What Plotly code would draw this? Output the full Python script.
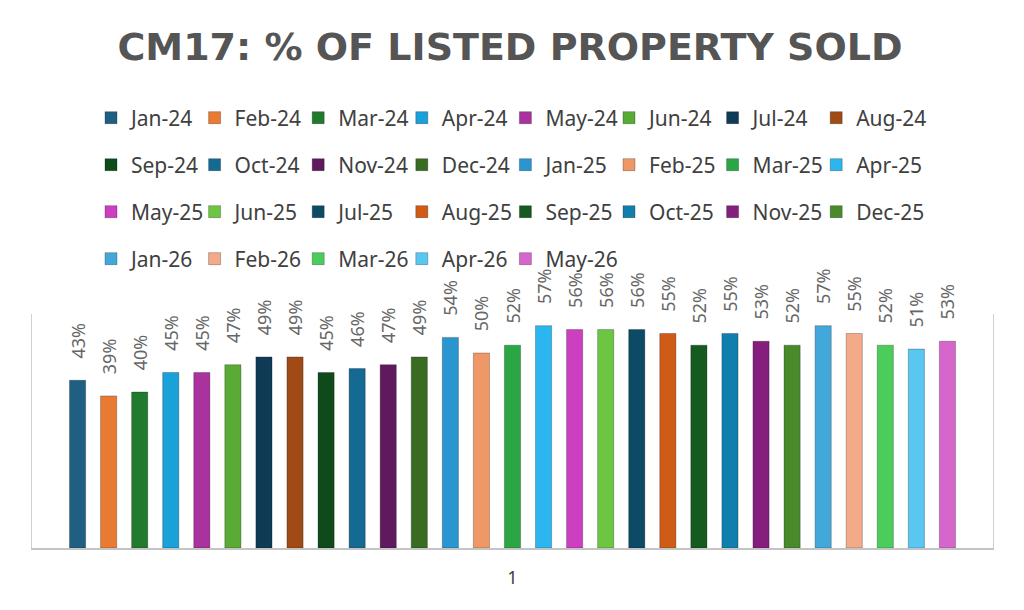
import plotly.graph_objects as go

categories = ["1"]
months = ["Jan-24", "Feb-24", "Mar-24", "Apr-24", "May-24", "Jun-24", "Jul-24", "Aug-24",
          "Sep-24", "Oct-24", "Nov-24", "Dec-24", "Jan-25", "Feb-25", "Mar-25", "Apr-25",
          "May-25", "Jun-25", "Jul-25", "Aug-25", "Sep-25", "Oct-25", "Nov-25", "Dec-25",
          "Jan-26", "Feb-26", "Mar-26", "Apr-26", "May-26"]
values = [0.43, 0.39, 0.40, 0.45, 0.45, 0.47, 0.49, 0.49,
          0.45, 0.46, 0.47, 0.49, 0.54, 0.50, 0.52, 0.57,
          0.56, 0.56, 0.56, 0.55, 0.52, 0.55, 0.53, 0.52,
          0.57, 0.55, 0.52, 0.51, 0.53]
colors = ["#1f5f82", "#e97a33", "#217a2e", "#1aa1d9", "#a9329e", "#5aaa36", "#0f3b56", "#a04a16",
          "#0f4a1a", "#156a94", "#5e1a5c", "#386c22", "#2996d0", "#ef9866", "#2aa744", "#2bb6ef",
          "#cc3fc1", "#6cc644", "#0c4a66", "#cf5b16", "#155a1f", "#117fad", "#841f7e", "#4a8a2b",
          "#42a8da", "#f2aa88", "#4ccc5a", "#5ac6f2", "#d566cc"]

LABEL_SIZE = 18
LEGEND_SIZE = 21
per_row = 8


def legend_name(i):
    return "legend" if i == 0 else f"legend{i + 1}"


fig = go.Figure()
for i, (m, v, c) in enumerate(zip(months, values, colors)):
    fig.add_trace(go.Bar(
        x=categories, y=[v], name=m,
        marker=dict(color=c, line=dict(color="rgba(0,0,0,0.25)", width=1)),
        texttemplate="\u00a0\u00a0\u00a0\u00a0%{y:.0%}",
        textposition="outside", textangle=-90,
        textfont=dict(family="Noto Sans", size=LABEL_SIZE, color="#666666"),
        cliponaxis=False,
        legend=legend_name(i),
    ))

OFF = 8  # page body margin offset
W, H = 1024, 610
ml, mr, mt, mb = 32 - OFF, 1024 - (993 - OFF), 314 - OFF, 610 - (548 - OFF)
plot_h = H - mt - mb
plot_w = W - ml - mr
row_px = [118, 165, 212, 259]
x0_px, step_px = 91, 103.6
legend_cfg = {}
for i in range(len(months)):
    r, k = divmod(i, per_row)
    legend_cfg[legend_name(i)] = dict(
        orientation="h", x=(x0_px + k * step_px - OFF - ml) / plot_w, xanchor="left",
        y=(H - mb - (row_px[r] - OFF)) / plot_h, yanchor="middle",
        font=dict(family="Noto Sans", size=LEGEND_SIZE, color="#404040"),
        bgcolor="rgba(0,0,0,0)",
    )

fig.update_layout(
    width=W, height=H,
    margin=dict(l=ml, r=mr, t=mt, b=mb),
    paper_bgcolor="white", plot_bgcolor="white",
    barmode="group", bargap=0.0625, bargroupgap=0.48,
    uniformtext=dict(minsize=LABEL_SIZE, mode="show"),
    title=dict(text="<b>CM17: % OF LISTED PROPERTY SOLD</b>", x=(510 - OFF) / W, xanchor="center",
               y=1 - (47 - OFF) / H, yanchor="middle", yref="container",
               font=dict(family="DejaVu Sans", size=38, color="#555555")),
    showlegend=True,
    **legend_cfg,
)
fig.update_xaxes(showline=True, linecolor="#c4c4c4", linewidth=1.5, ticks="",
                 tickfont=dict(family="Noto Sans", size=18, color="#404040"),
                 ticklabelstandoff=13)
fig.update_yaxes(range=[0, 0.6], showgrid=False, showticklabels=False, zeroline=False,
                 showline=True, mirror=True, linecolor="#d0d0d0", linewidth=1.2, ticks="")

fig.write_html("out.html")
